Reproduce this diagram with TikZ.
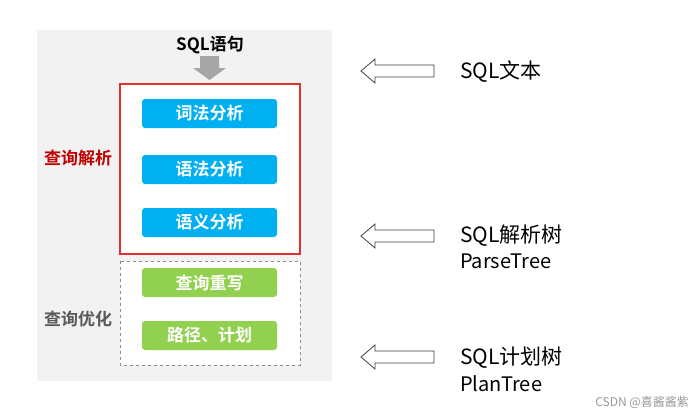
\documentclass[tikz,border=0pt]{standalone}
\usepackage{fontspec}
\setmainfont{Noto Sans CJK SC}
\newfontfamily\cjkb{Noto Sans CJK SC Bold}
\usetikzlibrary{shapes.arrows}
\definecolor{bgg}{HTML}{F2F2F2}
\definecolor{blu}{HTML}{00B0F0}
\definecolor{grn}{HTML}{92D050}
\definecolor{redd}{HTML}{C00000}
\definecolor{rbox}{HTML}{E03030}
\begin{document}
\begin{tikzpicture}[x=1pt,y=-1pt,
  stepbox/.style={rounded corners=3pt, minimum width=135pt, minimum height=29pt, inner sep=0pt, text=white, font=\cjkb\fontsize{17}{19}\selectfont},
  bluebox/.style={stepbox, fill=blu},
  greenbox/.style={stepbox, fill=grn},
  outarrow/.style={draw=black!75, fill=white, line width=0.8pt},
  rtext/.style={anchor=west, inner sep=0pt, font=\fontsize{21}{23}\selectfont},
  rsub/.style={anchor=west, inner sep=0pt, font=\fontsize{20}{22}\selectfont}]
\useasboundingbox (0,0) rectangle (695,415);
\fill[white] (0,0) rectangle (695,415);
\fill[bgg] (37,30) rectangle (332,381);
\node[font=\cjkb\fontsize{17}{19}\selectfont, inner sep=0pt] (sql) at (210,45) {SQL语句};
\fill[black!35] (200,56) -- (219,56) -- (219,68) -- (226,68) -- (209.5,80) -- (193,68) -- (200,68) -- cycle;
\draw[rbox, fill=white, line width=1.1pt] (120,84) rectangle (300,254);
\draw[black!45, fill=white, dashed, line width=0.6pt] (120,261) rectangle (300,365);
\node[bluebox] (b1) at (209.5,113.5) {词法分析};
\node[bluebox] (b2) at (209.5,169.5) {语法分析};
\node[bluebox] (b3) at (209.5,222.5) {语义分析};
\node[greenbox] (g1) at (209.5,282.5) {查询重写};
\node[greenbox] (g2) at (209.5,335.5) {路径、计划};
\node[text=redd, font=\cjkb\fontsize{17}{19}\selectfont, inner sep=0pt] (l1) at (78,158) {查询解析};
\node[text=black!65, font=\cjkb\fontsize{17}{19}\selectfont, inner sep=0pt] (l2) at (78,319) {查询优化};
\foreach \yy/\nm in {71/a1,236/a2,357/a3}{
  \draw[outarrow] (361,\yy) -- (375,\yy-12) -- (375,\yy-6) -- (434,\yy-6) -- (434,\yy+6) -- (375,\yy+6) -- (375,\yy+12) -- cycle;
}
\node[rtext] (t1) at (460,72) {SQL文本};
\node[rtext] (t2) at (460,236) {SQL解析树};
\node[rsub] (t2b) at (460,261) {ParseTree};
\node[rtext] (t3) at (460,358) {SQL计划树};
\node[rsub] (t3b) at (460,384) {PlanTree};
\node[anchor=east, text=black!40, font=\fontsize{12}{13}\selectfont, inner sep=0pt] (wm) at (689,402) {CSDN @喜酱酱紫};
\end{tikzpicture}
\end{document}
